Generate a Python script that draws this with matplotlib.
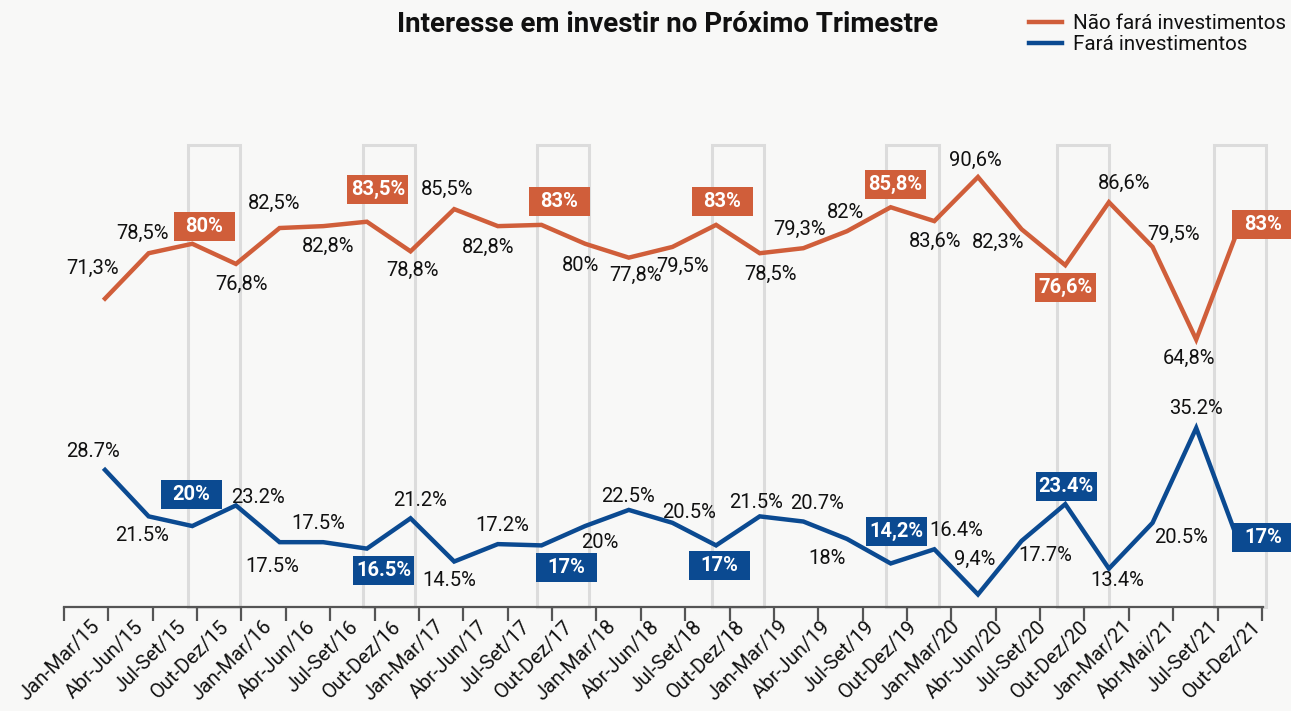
import matplotlib
matplotlib.use("Agg")
import matplotlib.pyplot as plt
from matplotlib.patches import Rectangle
from matplotlib.lines import Line2D
from matplotlib.transforms import IdentityTransform

# ---------------- data ----------------
categories = ["Jan-Mar/15", "Abr-Jun/15", "Jul-Set/15", "Out-Dez/15",
              "Jan-Mar/16", "Abr-Jun/16", "Jul-Set/16", "Out-Dez/16",
              "Jan-Mar/17", "Abr-Jun/17", "Jul-Set/17", "Out-Dez/17",
              "Jan-Mar/18", "Abr-Jun/18", "Jul-Set/18", "Out-Dez/18",
              "Jan-Mar/19", "Abr-Jun/19", "Jul-Set/19", "Out-Dez/19",
              "Jan-Mar/20", "Abr-Jun/20", "Jul-Set/20", "Out-Dez/20",
              "Jan-Mar/21", "Abr-Mai/21", "Jul-Set/21", "Out-Dez/21"]

nao_fara = [71.3, 78.5, 80, 76.8, 82.5, 82.8, 83.5, 78.8, 85.5, 82.8, 83, 80,
            77.8, 79.5, 83, 78.5, 79.3, 82, 85.8, 83.6, 90.6, 82.3, 76.6, 86.6,
            79.5, 64.8, 83]
nao_fara_labels = ["71,3%", "78,5%", "80%", "76,8%", "82,5%", "82,8%", "83,5%",
                   "78,8%", "85,5%", "82,8%", "83%", "80%", "77,8%", "79,5%",
                   "83%", "78,5%", "79,3%", "82%", "85,8%", "83,6%", "90,6%",
                   "82,3%", "76,6%", "86,6%", "79,5%", "64,8%", "83%"]

fara = [28.7, 21.5, 20, 23.2, 17.5, 17.5, 16.5, 21.2, 14.5, 17.2, 17, 20,
        22.5, 20.5, 17, 21.5, 20.7, 18, 14.2, 16.4, 9.4, 17.7, 23.4, 13.4,
        20.5, 35.2, 17]
fara_labels = ["28.7%", "21.5%", "20%", "23.2%", "17.5%", "17.5%", "16.5%",
               "21.2%", "14.5%", "17.2%", "17%", "20%", "22.5%", "20.5%",
               "17%", "21.5%", "20.7%", "18%", "14,2%", "16.4%", "9,4%",
               "17.7%", "23.4%", "13.4%", "20.5%", "35.2%", "17%"]

highlight_idx = [2, 6, 10, 14, 18, 22, 26]

# ---------------- layout / style ----------------
ORANGE = "#D05E3A"
BLUE = "#0B4A91"
BG = "#F8F8F7"
GRAY = "#DCDCDC"
FONT = "Roboto"

# centres of the grey highlight frames (x axis units)
frame_centres = [2.5, 6.5, 10.5, 14.5, 18.5, 22.4, 26.0]

# label offsets in pixels (dx right, dy down) relative to point
orange_off = [(-12, -30), (-6, -20), (12, -17), (6, 20), (-5, -25), (5, 20),
              (11, -32), (2, 19), (-7, -20), (-10, 21), (18, -23), (-5, 22),
              (7, 18), (10, 19), (6, -23), (11, 21), (-4, -19), (-2, -19),
              (5, -23), (1, 20), (-3, -17), (-23, 13), (0, 22), (15, -19),
              (21, -13), (-7, 19), (23, 0)]
blue_off = [(-12, -18), (-7, 19), (-1, -32), (22, -8), (-7, 24), (-5, -19),
            (17, 22), (10, -18), (-5, 19), (4, -19), (25, 22), (15, 16),
            (-1, -13), (17, -10), (3, 20), (-4, -14), (14, -18), (-20, 20),
            (6, -32), (22, -19), (-3, -35), (24, 15), (1, -18), (8, 12),
            (28, 15), (0, -20), (23, -8)]

W, H = 1291, 711
fig = plt.figure(figsize=(W / 100, H / 100), dpi=100, facecolor=BG)
ax_l, ax_r, ax_b, ax_t = 64, 1263, 607, 100
ax = fig.add_axes([ax_l / W, 1 - ax_b / H, (ax_r - ax_l) / W, (ax_b - ax_t) / H])
ax.set_facecolor(BG)
ax2 = ax.twinx()
ax2.set_position(ax.get_position())

n = len(nao_fara)
xs = list(range(n))
ax.set_xlim(-0.939, 26.53)
ax.set_ylim(22.35, 102.82)
ax2.set_ylim(7.45, 86.05)

# highlight frames
for c in frame_centres:
    ax.add_patch(Rectangle((c - 0.6, 0), 1.2, 0.911, transform=ax.get_xaxis_transform(),
                           facecolor="none", edgecolor=GRAY, lw=2.2, zorder=1,
                           clip_on=False))

l1, = ax.plot(xs, nao_fara, color=ORANGE, lw=3.2, zorder=3, solid_joinstyle="miter")
l2, = ax2.plot(xs, fara, color=BLUE, lw=3.2, zorder=3, solid_joinstyle="miter")

for a in (ax, ax2):
    for s in ("top", "right", "left"):
        a.spines[s].set_visible(False)
    a.set_yticks([])
ax2.spines["bottom"].set_visible(False)
ax.spines["bottom"].set_color("#555555")
ax.spines["bottom"].set_linewidth(1.6)

# ticks: major (marks) and minor (labels)
ax.xaxis.remove_overlapping_locs = False
tick_pos = [-0.939 + 1.0165 * k for k in range(len(categories))]
label_pos = [-0.183 + 0.985 * k for k in range(len(categories))]
ax.set_xticks(tick_pos)
ax.set_xticklabels([])
ax.tick_params(axis="x", which="major", direction="out", length=10, width=1.6,
               color="#555555")
ax.set_xticks(label_pos, minor=True)
ax.set_xticklabels(categories, minor=True, rotation=45, ha="right",
                   rotation_mode="anchor", fontsize=14.5, family=FONT, color="#111111")
ax.tick_params(axis="x", which="minor", length=0, pad=12)
for lab in ax.get_xticklabels(minor=True):
    lab.set_va("center")

fig.canvas.draw()


def add_labels(axis, vals, labels, offs, color):
    for i, (v, s, (dx, dy)) in enumerate(zip(vals, labels, offs)):
        if i in highlight_idx:
            px, py = axis.transData.transform((i, v))
            cx, cy = px + dx, py - dy
            fig.add_artist(Rectangle((cx - 30.5, cy - 14.5), 61, 29,
                                     transform=IdentityTransform(),
                                     facecolor=color, edgecolor="none", zorder=10))
            fig.text(cx, cy, s, transform=IdentityTransform(), ha="center",
                     va="center", color="white", fontsize=14.5, fontweight="bold",
                     family=FONT, zorder=11)
        else:
            axis.annotate(s, (i, v), xytext=(dx * 0.72, -dy * 0.72),
                          textcoords="offset points", ha="center", va="center",
                          fontsize=14.5, family=FONT, color="#111111", zorder=5,
                          annotation_clip=False)


add_labels(ax, nao_fara, nao_fara_labels, orange_off, ORANGE)
add_labels(ax2, fara, fara_labels, blue_off, BLUE)

fig.text(668 / W, 1 - 25 / H, "Interesse em investir no Próximo Trimestre",
         ha="center", va="center", fontsize=20, fontweight="bold", family=FONT,
         color="#111111")

handles = [Line2D([], [], color=ORANGE, lw=3.2), Line2D([], [], color=BLUE, lw=3.2)]
fig.legend(handles, ["Não fará investimentos", "Fará investimentos"],
           loc="upper left", bbox_to_anchor=(1029 / W, 1 - 14 / H), frameon=False,
           prop={"family": FONT, "size": 14.8}, handlelength=1.6,
           handletextpad=0.55, labelspacing=0.12, borderpad=0, borderaxespad=0,
           labelcolor="#111111")

fig.savefig("out.png", dpi=100, facecolor=BG)
